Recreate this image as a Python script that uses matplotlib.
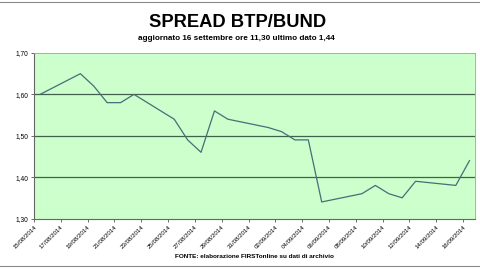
import matplotlib.pyplot as plt
from datetime import datetime, timedelta

# daily readings (about 11:00), last one at 11:30
dates = ["15/08/2014", "18/08/2014", "19/08/2014", "20/08/2014", "21/08/2014",
         "22/08/2014", "25/08/2014", "26/08/2014", "27/08/2014", "28/08/2014",
         "29/08/2014", "01/09/2014", "02/09/2014", "03/09/2014", "04/09/2014",
         "05/09/2014", "08/09/2014", "09/09/2014", "10/09/2014", "11/09/2014",
         "12/09/2014", "15/09/2014", "16/09/2014"]
spread = [1.60, 1.65, 1.62, 1.58, 1.58, 1.60, 1.54, 1.49, 1.46, 1.56, 1.54,
          1.52, 1.51, 1.49, 1.49, 1.34, 1.36, 1.38, 1.36, 1.35, 1.39, 1.38, 1.44]
yticks = [1.30, 1.40, 1.50, 1.60, 1.70]

x = [datetime.strptime(d, "%d/%m/%Y") + timedelta(hours=11) for d in dates]
x[-1] = x[-1] + timedelta(minutes=30)

fig = plt.figure(figsize=(4.8, 2.7), dpi=100)
plt.rcParams["font.family"] = ["Liberation Sans", "DejaVu Sans"]

ax = fig.add_axes([0.0708, 0.1907, 0.9188, 0.613])
ax.set_facecolor("#ccffcc")
ax.plot(x, spread, color="#456e78", lw=0.9)

start = datetime(2014, 8, 15)
ax.set_xlim(start, start + timedelta(days=32.89))
ax.set_ylim(1.30, 1.70)
ax.set_yticks(yticks)
ax.set_yticklabels([f"{v:.2f}".replace(".", ",") for v in yticks], fontsize=4.8)
for v in yticks[1:-1]:
    ax.axhline(v, color="#44604c", lw=0.9, zorder=1)

ticks = [start + timedelta(days=2 * i) for i in range(17)]
ax.set_xticks(ticks)
ax.set_xticklabels([t.strftime("%d/%m/%Y") for t in ticks], fontsize=4.4,
                   rotation=45, ha="right", rotation_mode="anchor")
ax.tick_params(axis="both", length=2.5, width=0.6, color="#555555", pad=1.5)

for side in ["top", "right"]:
    ax.spines[side].set_color("#a0a0a0")
    ax.spines[side].set_linewidth(0.6)
for side in ["left", "bottom"]:
    ax.spines[side].set_color("#666666")
    ax.spines[side].set_linewidth(0.8)

fig.text(0.495, 0.915, "SPREAD BTP/BUND", ha="center", va="center",
         fontsize=13.2, fontweight="bold")
fig.text(0.492, 0.858, "aggiornato 16 settembre ore 11,30 ultimo dato 1,44",
         ha="center", va="center", fontsize=5.9, fontweight="bold")
fig.text(0.53, 0.05, "FONTE: elaborazione FIRSTonline su dati di archivio",
         ha="center", va="center", fontsize=4.6, fontweight="bold")

# thin frame lines at the top and bottom of the image
fig.add_artist(plt.Line2D([0, 1], [0.993, 0.993], color="#8a8a8a", lw=0.8))
fig.add_artist(plt.Line2D([0, 1], [0.013, 0.013], color="#8a8a8a", lw=0.8))

fig.savefig("out.png", dpi=100)
